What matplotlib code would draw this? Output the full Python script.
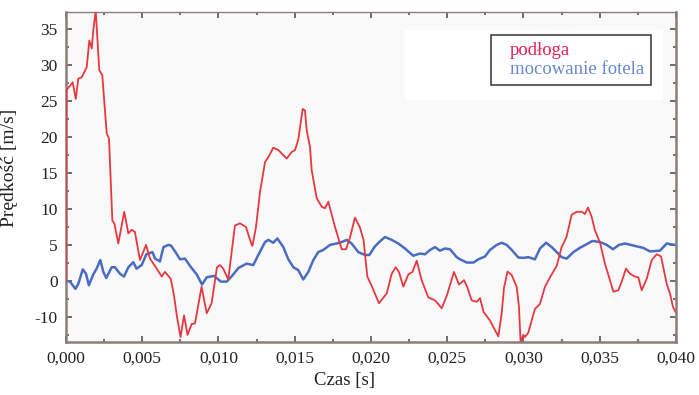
import matplotlib
matplotlib.use("Agg")
import matplotlib.pyplot as plt
from matplotlib.lines import Line2D
from matplotlib.patches import Rectangle
from matplotlib.ticker import FixedLocator, MultipleLocator
import numpy as np

# Time samples in milliseconds, velocities in m/s
floor_t_ms = [0.00, 0.03, 0.44, 0.64, 0.81, 1.03, 1.36, 1.53, 1.69, 1.79, 1.95, 2.18,
              2.38, 2.67, 2.82, 3.04, 3.17, 3.43, 3.82, 4.09, 4.31, 4.52, 4.85, 5.25,
              5.51, 5.95, 6.28, 6.49, 6.87, 7.08, 7.28, 7.51, 7.74, 7.97, 8.24, 8.46,
              8.89, 9.23, 9.55, 9.90, 10.10, 10.31, 10.64, 11.08, 11.41, 11.80, 12.18,
              12.23, 12.46, 12.72, 13.05, 13.27, 13.59, 13.92, 14.47, 14.80, 15.02,
              15.23, 15.52, 15.67, 15.78, 16.00, 16.11, 16.44, 16.77, 16.98, 17.20,
              17.64, 18.08, 18.36, 18.62, 18.95, 19.28, 19.51, 19.76, 20.07, 20.52,
              21.03, 21.36, 21.62, 21.84, 22.12, 22.45, 22.72, 23.00, 23.32, 23.76,
              24.20, 24.64, 24.98, 25.44, 25.77, 26.10, 26.30, 26.60, 26.93, 27.15,
              27.38, 27.80, 28.02, 28.35, 28.57, 28.72, 28.95, 29.23, 29.55, 29.70,
              29.81, 29.99, 30.10, 30.31, 30.75, 31.08, 31.41, 31.74, 32.18, 32.50,
              32.82, 33.16, 33.49, 33.82, 34.03, 34.23, 34.47, 34.69, 35.02, 35.34,
              35.67, 35.89, 36.22, 36.44, 36.72, 36.98, 37.31, 37.53, 37.75, 38.08,
              38.41, 38.73, 39.02, 39.39, 39.61, 39.80, 39.97]
floor_v = [0.0, 26.5, 27.6, 25.3, 28.1, 28.3, 29.7, 33.4, 32.3, 34.8, 37.6, 29.3,
           28.6, 20.5, 19.8, 8.4, 8.0, 5.2, 9.6, 6.6, 7.1, 6.8, 2.9, 5.0,
           3.1, 1.7, 0.6, 1.25, 0.3, -2.0, -5.0, -7.8, -4.8, -7.5, -6.0, -5.9,
           -0.8, -4.5, -3.1, 1.9, 2.2, 1.7, 0.2, 7.7, 8.0, 7.5, 5.0,
           4.9, 7.5, 12.3, 16.5, 17.2, 18.5, 18.2, 17.0, 17.9, 18.2,
           19.6, 23.9, 23.7, 21.0, 18.6, 15.4, 11.5, 10.3, 10.1, 11.0,
           7.5, 4.4, 4.4, 6.0, 8.8, 7.4, 5.7, 0.6, -0.8, -3.1,
           -1.75, 1.0, 1.9, 1.2, -0.8, 0.9, 1.25, 2.8, 0.1, -2.3,
           -2.7, -3.8, -2.0, 1.25, -0.5, 0.1, -0.8, -2.7, -2.9, -2.4,
           -4.3, -5.5, -6.4, -7.7, -4.5, -1.0, 1.3, 0.8, -0.8, -3.5,
           -8.5, -7.5, -7.8, -7.2, -3.9, -3.2, -0.8, 0.5, 2.1, 4.7,
           6.1, 9.2, 9.6, 9.6, 9.3, 10.2, 8.9, 7.0, 5.3, 2.4,
           0.1, -1.5, -1.3, -0.1, 1.7, 1.0, 0.6, 0.5, -1.3, 0.3,
           2.9, 3.7, 3.4, -0.4, -1.8, -3.6, -4.3]

mount_t_ms = [0.00, 0.26, 0.62, 0.81, 1.10, 1.31, 1.50, 1.79, 2.01, 2.25, 2.45, 2.64,
              3.00, 3.21, 3.54, 3.80, 4.09, 4.41, 4.63, 4.96, 5.27, 5.67, 5.84, 6.16,
              6.39, 6.72, 6.89, 7.18, 7.48, 7.80, 8.16, 8.57, 8.92, 9.23, 9.70, 10.16,
              10.54, 10.89, 11.31, 11.85, 12.28, 12.61, 13.05, 13.27, 13.59, 13.86,
              14.25, 14.58, 14.91, 15.23, 15.56, 15.89, 16.22, 16.54, 16.87, 17.31,
              17.75, 18.08, 18.41, 18.73, 19.17, 19.61, 19.89, 20.26, 20.59, 20.92,
              21.36, 21.79, 22.23, 22.77, 23.21, 23.54, 23.87, 24.20, 24.52, 24.85,
              25.18, 25.62, 25.84, 26.28, 26.72, 27.04, 27.48, 27.80, 28.24, 28.57,
              28.90, 29.23, 29.66, 29.99, 30.32, 30.75, 31.08, 31.48, 31.85, 32.18,
              32.50, 32.83, 33.27, 33.70, 34.14, 34.52, 35.02, 35.46, 35.87, 36.26,
              36.66, 37.42, 37.84, 38.29, 38.95, 39.39, 39.61, 39.97]
mount_v = [0.0, -0.1, -1.1, -0.4, 1.6, 1.0, -0.6, 0.9, 1.7, 2.9, 1.25, 0.4,
           1.9, 1.9, 1.0, 0.6, 1.9, 2.6, 1.7, 2.2, 3.7, 4.0, 3.1, 2.7,
           4.7, 5.0, 4.9, 4.0, 3.0, 3.1, 2.0, 0.9, -0.5, 0.5, 0.7, -0.1,
           -0.1, 0.7, 1.8, 2.4, 2.2, 3.6, 5.4, 5.7, 5.3, 5.9,
           4.7, 3.0, 1.9, 1.5, 0.2, 1.25, 2.9, 4.0, 4.3, 5.0,
           5.2, 5.4, 5.7, 5.2, 4.0, 3.6, 3.6, 4.8, 5.5, 6.1,
           5.7, 5.2, 4.5, 3.5, 3.8, 3.7, 4.3, 4.7, 4.2, 4.5,
           4.4, 3.3, 3.0, 2.55, 2.55, 3.0, 3.4, 4.3, 5.0, 5.3,
           5.0, 4.3, 3.25, 3.2, 3.3, 3.0, 4.5, 5.3, 4.7, 4.0,
           3.3, 3.1, 4.0, 4.6, 5.1, 5.55, 5.4, 5.0, 4.4, 5.0,
           5.2, 4.8, 4.6, 4.1, 4.2, 5.2, 5.1, 5.0]

series_names = ["podłoga", "mocowanie fotela"]

x_ticks = [0.000, 0.005, 0.010, 0.015, 0.020, 0.025, 0.030, 0.035, 0.040]
x_tick_labels = ["0,000", "0,005", "0,010", "0,015", "0,020", "0,025", "0,030", "0,035", "0,040"]
y_ticks = [35, 30, 25, 20, 15, 10, 5, 0, -5]
y_tick_labels = ["35", "30", "25", "20", "15", "10", "5", "0", "-10"]

plt.rcParams["font.family"] = ["Liberation Serif", "DejaVu Serif"]

fig = plt.figure(figsize=(6.99, 3.95), dpi=100, facecolor="white")
ax = fig.add_axes([0.0944, 0.134, 0.8727, 0.8362])
ax.set_facecolor("#f9f9f9")

floor_t = np.array(floor_t_ms) / 1000.0
mount_t = np.array(mount_t_ms) / 1000.0

# light patch behind the legend
ax.add_patch(Rectangle((0.556, 0.733), 0.423, 0.212, transform=ax.transAxes,
                       facecolor="white", edgecolor="none", zorder=0.5))

red = "#e8383f"
blue = "#4a6cc2"
ax.plot(floor_t, floor_v, color=red, lw=1.3, zorder=3)
ax.plot(mount_t, mount_v, color=blue, lw=1.8, zorder=2)

ax.set_xlim(0.0, 0.040)
ax.set_ylim(-8.5, 37.4)

ax.xaxis.set_major_locator(FixedLocator(x_ticks))
ax.set_xticklabels(x_tick_labels)
ax.xaxis.set_minor_locator(MultipleLocator(0.0025))
ax.yaxis.set_major_locator(FixedLocator(y_ticks))
ax.set_yticklabels(y_tick_labels)
ax.yaxis.set_minor_locator(MultipleLocator(2.5))

spine_color = "#8a7e7c"
for side in ["left", "right", "top", "bottom"]:
    ax.spines[side].set_color(spine_color)
    ax.spines[side].set_linewidth(1.8)
ax.spines["top"].set_linewidth(1.0)

ax.tick_params(which="both", direction="in", top=True, right=True,
               color="#5e5252", width=1.2, labelsize=12.5, labelcolor="#222222")
ax.tick_params(which="major", length=4, pad=6)
ax.tick_params(which="minor", length=2.5)

ax.set_xlabel("Czas [s]", fontsize=13.5, color="#222222")
ax.set_ylabel("Prędkość [m/s]", fontsize=14, color="#222222")
ax.xaxis.set_label_coords(0.457, -0.092)
ax.yaxis.set_label_coords(-0.079, 0.527)

handles = [Line2D([], [], color=red), Line2D([], [], color=blue)]
leg = ax.legend(handles, series_names, loc="upper left", bbox_to_anchor=(0.697, 0.929),
                borderaxespad=0, handlelength=0, handletextpad=0.6, fancybox=False,
                frameon=True, fontsize=13.5, borderpad=0.38, labelspacing=0.05,
                framealpha=1.0)
leg.get_frame().set_edgecolor("#333333")
leg.get_frame().set_linewidth(1.1)
for txt, c in zip(leg.get_texts(), ["#e3204f", "#6688cc"]):
    txt.set_color(c)
for h in leg.legend_handles:
    h.set_visible(False)

fig.savefig("out.png", dpi=100, facecolor="white")
